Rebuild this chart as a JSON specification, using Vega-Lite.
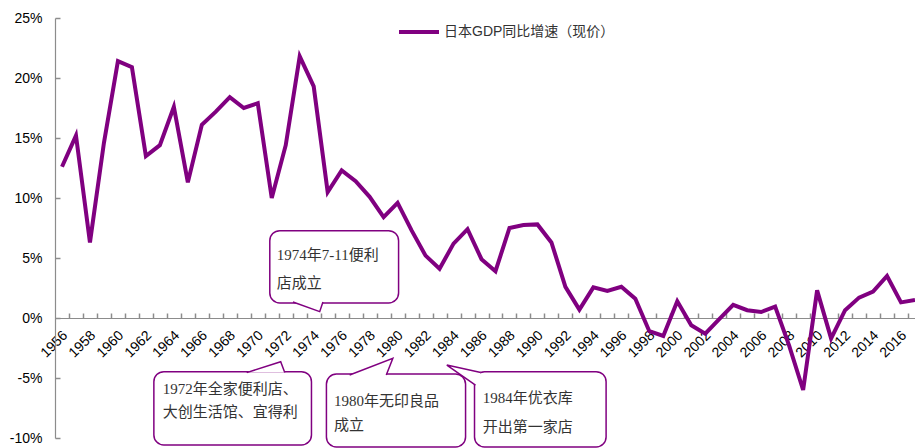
{
  "$schema": "https://vega.github.io/schema/vega-lite/v6.json",
  "width": 860,
  "height": 420,
  "autosize": {"type": "none"},
  "padding": {"left": 55, "top": 18, "right": 0, "bottom": 10},
  "background": "white",
  "config": {
    "view": {"stroke": null},
    "font": "Liberation Sans",
    "axis": {"grid": false, "labelOverlap": false, "labelFontSize": 14, "labelColor": "#000000", "domainColor": "#8c8c8c", "domainWidth": 1.2}
  },
  "resolve": {"axis": {"x": "independent", "y": "independent"}},
  "datasets": {
    "gdp": [
      {"year": 1956, "growth": 12.6, "series": "日本GDP同比增速（现价）"},
      {"year": 1957, "growth": 15.2, "series": "日本GDP同比增速（现价）"},
      {"year": 1958, "growth": 6.3, "series": "日本GDP同比增速（现价）"},
      {"year": 1959, "growth": 14.6, "series": "日本GDP同比增速（现价）"},
      {"year": 1960, "growth": 21.4, "series": "日本GDP同比增速（现价）"},
      {"year": 1961, "growth": 20.9, "series": "日本GDP同比增速（现价）"},
      {"year": 1962, "growth": 13.5, "series": "日本GDP同比增速（现价）"},
      {"year": 1963, "growth": 14.4, "series": "日本GDP同比增速（现价）"},
      {"year": 1964, "growth": 17.6, "series": "日本GDP同比增速（现价）"},
      {"year": 1965, "growth": 11.3, "series": "日本GDP同比增速（现价）"},
      {"year": 1966, "growth": 16.1, "series": "日本GDP同比增速（现价）"},
      {"year": 1967, "growth": 17.2, "series": "日本GDP同比增速（现价）"},
      {"year": 1968, "growth": 18.4, "series": "日本GDP同比增速（现价）"},
      {"year": 1969, "growth": 17.5, "series": "日本GDP同比增速（现价）"},
      {"year": 1970, "growth": 17.9, "series": "日本GDP同比增速（现价）"},
      {"year": 1971, "growth": 10.0, "series": "日本GDP同比增速（现价）"},
      {"year": 1972, "growth": 14.4, "series": "日本GDP同比增速（现价）"},
      {"year": 1973, "growth": 21.8, "series": "日本GDP同比增速（现价）"},
      {"year": 1974, "growth": 19.3, "series": "日本GDP同比增速（现价）"},
      {"year": 1975, "growth": 10.5, "series": "日本GDP同比增速（现价）"},
      {"year": 1976, "growth": 12.3, "series": "日本GDP同比增速（现价）"},
      {"year": 1977, "growth": 11.4, "series": "日本GDP同比增速（现价）"},
      {"year": 1978, "growth": 10.1, "series": "日本GDP同比增速（现价）"},
      {"year": 1979, "growth": 8.4, "series": "日本GDP同比增速（现价）"},
      {"year": 1980, "growth": 9.6, "series": "日本GDP同比增速（现价）"},
      {"year": 1981, "growth": 7.3, "series": "日本GDP同比增速（现价）"},
      {"year": 1982, "growth": 5.2, "series": "日本GDP同比增速（现价）"},
      {"year": 1983, "growth": 4.1, "series": "日本GDP同比增速（现价）"},
      {"year": 1984, "growth": 6.2, "series": "日本GDP同比增速（现价）"},
      {"year": 1985, "growth": 7.4, "series": "日本GDP同比增速（现价）"},
      {"year": 1986, "growth": 4.9, "series": "日本GDP同比增速（现价）"},
      {"year": 1987, "growth": 3.9, "series": "日本GDP同比增速（现价）"},
      {"year": 1988, "growth": 7.5, "series": "日本GDP同比增速（现价）"},
      {"year": 1989, "growth": 7.75, "series": "日本GDP同比增速（现价）"},
      {"year": 1990, "growth": 7.8, "series": "日本GDP同比增速（现价）"},
      {"year": 1991, "growth": 6.3, "series": "日本GDP同比增速（现价）"},
      {"year": 1992, "growth": 2.6, "series": "日本GDP同比增速（现价）"},
      {"year": 1993, "growth": 0.7, "series": "日本GDP同比增速（现价）"},
      {"year": 1994, "growth": 2.55, "series": "日本GDP同比增速（现价）"},
      {"year": 1995, "growth": 2.25, "series": "日本GDP同比增速（现价）"},
      {"year": 1996, "growth": 2.6, "series": "日本GDP同比增速（现价）"},
      {"year": 1997, "growth": 1.6, "series": "日本GDP同比增速（现价）"},
      {"year": 1998, "growth": -1.1, "series": "日本GDP同比增速（现价）"},
      {"year": 1999, "growth": -1.5, "series": "日本GDP同比增速（现价）"},
      {"year": 2000, "growth": 1.4, "series": "日本GDP同比增速（现价）"},
      {"year": 2001, "growth": -0.6, "series": "日本GDP同比增速（现价）"},
      {"year": 2002, "growth": -1.3, "series": "日本GDP同比增速（现价）"},
      {"year": 2003, "growth": -0.1, "series": "日本GDP同比增速（现价）"},
      {"year": 2004, "growth": 1.1, "series": "日本GDP同比增速（现价）"},
      {"year": 2005, "growth": 0.65, "series": "日本GDP同比增速（现价）"},
      {"year": 2006, "growth": 0.5, "series": "日本GDP同比增速（现价）"},
      {"year": 2007, "growth": 0.95, "series": "日本GDP同比增速（现价）"},
      {"year": 2008, "growth": -2.3, "series": "日本GDP同比增速（现价）"},
      {"year": 2009, "growth": -6.0, "series": "日本GDP同比增速（现价）"},
      {"year": 2010, "growth": 2.3, "series": "日本GDP同比增速（现价）"},
      {"year": 2011, "growth": -1.7, "series": "日本GDP同比增速（现价）"},
      {"year": 2012, "growth": 0.65, "series": "日本GDP同比增速（现价）"},
      {"year": 2013, "growth": 1.7, "series": "日本GDP同比增速（现价）"},
      {"year": 2014, "growth": 2.2, "series": "日本GDP同比增速（现价）"},
      {"year": 2015, "growth": 3.5, "series": "日本GDP同比增速（现价）"},
      {"year": 2016, "growth": 1.3, "series": "日本GDP同比增速（现价）"},
      {"year": 2017, "growth": 1.5, "series": "日本GDP同比增速（现价）"}
    ],
    "bubbles": [
      {"id": "b1", "x1": 1970.86, "x2": 1980.07, "y1": 7.28, "y2": 1.25},
      {"id": "b2", "x1": 1962.57, "x2": 1973.84, "y1": -4.47, "y2": -10.58},
      {"id": "b3", "x1": 1974.91, "x2": 1984.86, "y1": -4.67, "y2": -10.75},
      {"id": "b4", "x1": 1985.5, "x2": 1994.91, "y1": -4.47, "y2": -10.75}
    ],
    "tails": [
      {"id": "t1", "k": 1, "x": 1972.52, "y": 1.33},
      {"id": "t1", "k": 2, "x": 1974.43, "y": 0.53},
      {"id": "t1", "k": 3, "x": 1974.66, "y": 1.33},
      {"id": "t2", "k": 1, "x": 1969.21, "y": -4.55},
      {"id": "t2", "k": 2, "x": 1971.64, "y": -3.64},
      {"id": "t2", "k": 3, "x": 1971.93, "y": -4.55},
      {"id": "t3", "k": 1, "x": 1976.57, "y": -4.75},
      {"id": "t3", "k": 2, "x": 1979.66, "y": -3.36},
      {"id": "t3", "k": 3, "x": 1979.19, "y": -4.75},
      {"id": "t4", "k": 1, "x": 1985.95, "y": -4.55},
      {"id": "t4", "k": 2, "x": 1983.52, "y": -3.92},
      {"id": "t4", "k": 3, "x": 1985.57, "y": -5.6}
    ],
    "notes": [
      {"x": 1971.36, "y": 5.25, "t": "1974年7-11便利"},
      {"x": 1971.36, "y": 2.92, "t": "店成立"},
      {"x": 1963.2, "y": -5.94, "t": "1972年全家便利店、"},
      {"x": 1963.2, "y": -7.81, "t": "大创生活馆、宜得利"},
      {"x": 1975.45, "y": -6.92, "t": "1980年无印良品"},
      {"x": 1975.45, "y": -8.92, "t": "成立"},
      {"x": 1986.09, "y": -6.69, "t": "1984年优衣库"},
      {"x": 1986.09, "y": -9.06, "t": "开出第一家店"}
    ]
  },
  "encoding": {
    "x": {"type": "quantitative", "scale": {"domain": [1955.5, 2017], "nice": false, "zero": false}},
    "y": {"type": "quantitative", "scale": {"domain": [-10, 25], "nice": false}}
  },
  "layer": [
    {
      "data": {"name": "gdp"},
      "mark": {"type": "line", "strokeWidth": 4},
      "encoding": {
        "x": {
          "field": "year",
          "axis": {
            "title": null,
            "orient": "bottom",
            "offset": -120,
            "values": [1956,1958,1960,1962,1964,1966,1968,1970,1972,1974,1976,1978,1980,1982,1984,1986,1988,1990,1992,1994,1996,1998,2000,2002,2004,2006,2008,2010,2012,2014,2016],
            "labelExpr": "'' + datum.value",
            "labelAngle": -45,
            "labelFontSize": 14,
            "labelPadding": 10,
            "labelOffset": -2,
            "labelFlush": false,
            "labelBound": false,
            "ticks": false
          }
        },
        "y": {
          "field": "growth",
          "axis": {
            "title": null,
            "orient": "left",
            "values": [-10, -5, 0, 5, 10, 15, 20, 25],
            "labelExpr": "datum.value + '%'",
            "labelFontSize": 14,
            "labelPadding": 13,
            "ticks": false
          }
        },
        "color": {
          "field": "series",
          "type": "nominal",
          "scale": {"range": ["#800080"]},
          "legend": {
            "title": null,
            "orient": "none",
            "legendX": 342,
            "legendY": -8,
            "symbolType": "stroke",
            "symbolSize": 1600,
            "symbolStrokeWidth": 4,
            "labelFontSize": 14,
            "labelFont": "Liberation Sans, Noto Sans CJK SC",
            "labelColor": "#333333",
            "labelOffset": 3,
            "labelLimit": 400
          }
        }
      }
    },
    {
      "data": {"name": "bubbles"},
      "mark": {"type": "rect", "fill": "white", "stroke": "#800080", "strokeWidth": 1.5, "cornerRadius": 10},
      "encoding": {
        "x": {
          "field": "x1",
          "axis": {
            "title": null,
            "orient": "top",
            "offset": -300,
            "values": [1956,1957,1958,1959,1960,1961,1962,1963,1964,1965,1966,1967,1968,1969,1970,1971,1972,1973,1974,1975,1976,1977,1978,1979,1980,1981,1982,1983,1984,1985,1986,1987,1988,1989,1990,1991,1992,1993,1994,1995,1996,1997,1998,1999,2000,2001,2002,2003,2004,2005,2006,2007,2008,2009,2010,2011,2012,2013,2014,2015,2016],
            "tickOffset": 7,
            "tickSize": 5,
            "tickColor": "#8c8c8c",
            "tickWidth": 1.5,
            "ticks": true,
            "labels": false,
            "domain": false
          }
        },
        "x2": {"field": "x2"},
        "y": {
          "field": "y1",
          "axis": {
            "title": null,
            "orient": "right",
            "offset": -860,
            "values": [-10, -5, 0, 5, 10, 15, 20, 25],
            "tickSize": 5,
            "tickColor": "#8c8c8c",
            "tickWidth": 1.5,
            "ticks": true,
            "labels": false,
            "domain": false
          }
        },
        "y2": {"field": "y2"}
      }
    },
    {
      "data": {"name": "tails"},
      "mark": {"type": "line", "fill": "white", "stroke": "#800080", "strokeWidth": 1.5, "strokeJoin": "miter"},
      "encoding": {
        "x": {"field": "x", "axis": null},
        "y": {"field": "y", "axis": null},
        "detail": {"field": "id"},
        "order": {"field": "k"}
      }
    },
    {
      "data": {"name": "notes"},
      "mark": {"type": "text", "align": "left", "baseline": "middle", "font": "Liberation Serif, Noto Sans CJK SC", "fontSize": 15, "color": "#333333"},
      "encoding": {
        "x": {"field": "x", "axis": null},
        "y": {"field": "y", "axis": null},
        "text": {"field": "t"}
      }
    }
  ]
}
